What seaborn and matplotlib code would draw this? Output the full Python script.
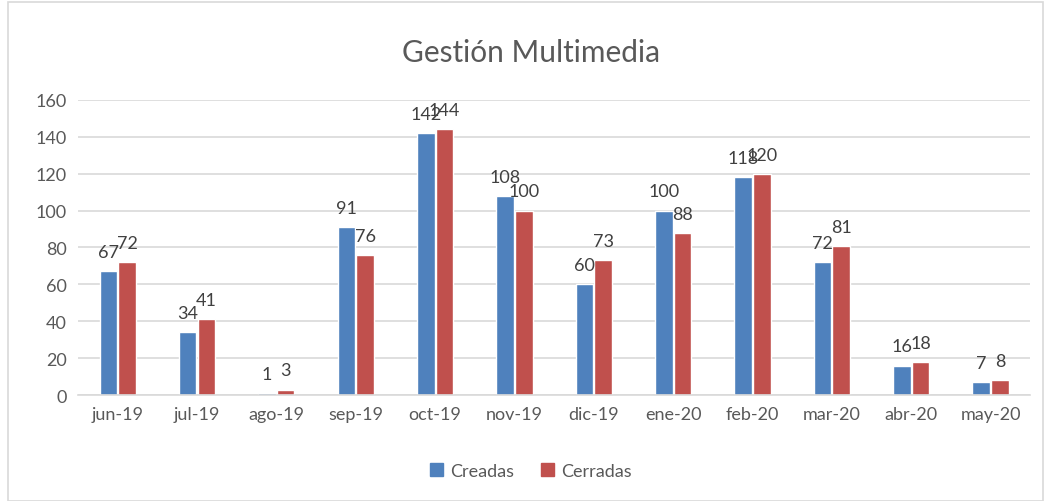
import numpy as np
import pandas as pd
import matplotlib.pyplot as plt
from matplotlib.patches import Rectangle
import seaborn as sns

months = ["jun-19", "jul-19", "ago-19", "sep-19", "oct-19", "nov-19",
          "dic-19", "ene-20", "feb-20", "mar-20", "abr-20", "may-20"]
creadas = [67, 34, 1, 91, 142, 108, 60, 100, 118, 72, 16, 7]
cerradas = [72, 41, 3, 76, 144, 100, 73, 88, 120, 81, 18, 8]
series = ["Creadas", "Cerradas"]
colors = ["#4F81BD", "#C0504D"]

df = pd.DataFrame({
    "Mes": months * 2,
    "Valor": creadas + cerradas,
    "Serie": [series[0]] * len(months) + [series[1]] * len(months),
})

sns.set_style("white")
plt.rcParams["font.family"] = ["Lato", "DejaVu Sans"]
text_color = "#595959"

fig = plt.figure(figsize=(10.47, 5.02), dpi=100)
ax = fig.add_axes([0.0745, 0.211, 0.9095, 0.588])

sns.barplot(data=df, x="Mes", y="Valor", hue="Serie", palette=colors,
            width=0.47, gap=0.06, ax=ax, legend=False, saturation=1)

# etiquetas de datos encima de cada barra
for cont in ax.containers:
    ax.bar_label(cont, fontsize=13, color="#404040", padding=8)

ax.set_ylim(0, 160)
ax.set_yticks(range(0, 161, 20))
ax.set_xlim(-0.5, len(months) - 0.5)
ax.yaxis.grid(True, color="#D9D9D9", linewidth=1.2)
ax.set_axisbelow(True)
ax.set_xlabel("")
ax.set_ylabel("")
for s in ["top", "right", "left"]:
    ax.spines[s].set_visible(False)
ax.spines["bottom"].set_color("#D9D9D9")
ax.spines["bottom"].set_linewidth(1.2)
ax.tick_params(axis="both", labelsize=13, colors=text_color, length=0, pad=8)
ax.set_xticks(np.arange(-0.5, len(months), 1), minor=True)
ax.tick_params(axis="x", which="minor", length=6, color="#D9D9D9", width=1.2)

fig.text(0.507, 0.895, "Gestión Multimedia", ha="center", va="center",
         fontsize=21.5, color=text_color)

handles = [Rectangle((0, 0), 1, 1, color=c) for c in colors]
fig.legend(handles, series, loc="center", bbox_to_anchor=(0.507, 0.06),
           ncol=2, frameon=False, fontsize=13, labelcolor=text_color,
           handlelength=0.7, handleheight=0.7, handletextpad=0.4,
           columnspacing=1.5)

fig.patches.append(Rectangle((0.008, 0.0), 0.988, 0.995, transform=fig.transFigure,
                             fill=False, edgecolor="#D9D9D9", linewidth=1.2))

plt.savefig("out.png", dpi=100)
